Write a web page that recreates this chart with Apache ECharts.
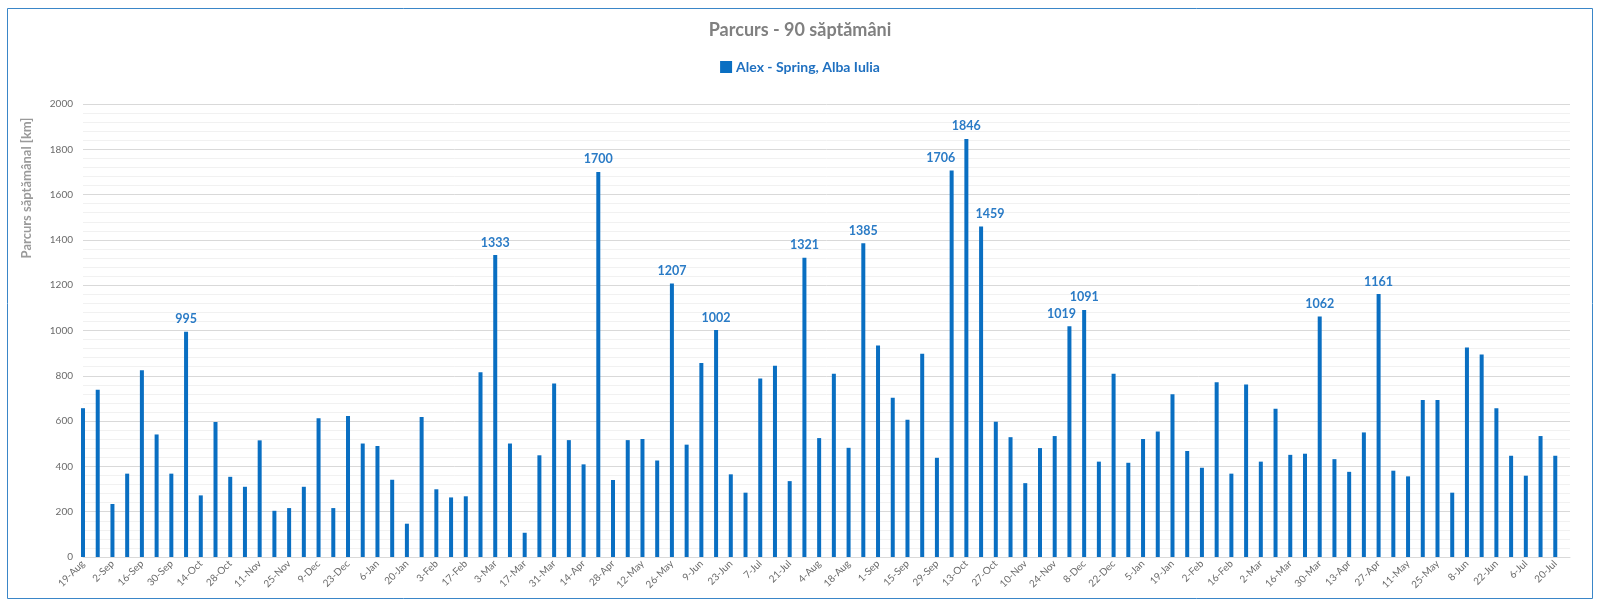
<!DOCTYPE html>
<html>
<head>
<meta charset="utf-8">
<title>Parcurs - 90 săptămâni</title>
<script src="https://cdn.jsdelivr.net/npm/echarts@6/dist/echarts.min.js"></script>
<style>
  html, body { margin: 0; padding: 0; background: #fff; }
  #chart { width: 1600px; height: 604px; }
</style>
</head>
<body>
<div id="chart"></div>
<script>
// weekly buckets (every other one gets a tick label on the axis)
const weeks = [
  '19-Aug', '26-Aug', '2-Sep', '9-Sep', '16-Sep', '23-Sep', '30-Sep', '7-Oct', '14-Oct', '21-Oct',
  '28-Oct', '4-Nov', '11-Nov', '18-Nov', '25-Nov', '2-Dec', '9-Dec', '16-Dec', '23-Dec', '30-Dec',
  '6-Jan', '13-Jan', '20-Jan', '27-Jan', '3-Feb', '10-Feb', '17-Feb', '24-Feb', '3-Mar', '10-Mar',
  '17-Mar', '24-Mar', '31-Mar', '7-Apr', '14-Apr', '21-Apr', '28-Apr', '5-May', '12-May', '19-May',
  '26-May', '2-Jun', '9-Jun', '16-Jun', '23-Jun', '30-Jun', '7-Jul', '14-Jul', '21-Jul', '28-Jul',
  '4-Aug', '11-Aug', '18-Aug', '25-Aug', '1-Sep', '8-Sep', '15-Sep', '22-Sep', '29-Sep', '6-Oct',
  '13-Oct', '20-Oct', '27-Oct', '3-Nov', '10-Nov', '17-Nov', '24-Nov', '1-Dec', '8-Dec', '15-Dec',
  '22-Dec', '29-Dec', '5-Jan', '12-Jan', '19-Jan', '26-Jan', '2-Feb', '9-Feb', '16-Feb', '23-Feb',
  '2-Mar', '9-Mar', '16-Mar', '23-Mar', '30-Mar', '6-Apr', '13-Apr', '20-Apr', '27-Apr', '4-May',
  '11-May', '18-May', '25-May', '1-Jun', '8-Jun', '15-Jun', '22-Jun', '29-Jun', '6-Jul', '13-Jul',
  '20-Jul'
]

// km per week, Alex - Spring, Alba Iulia
const km = [
  657, 738, 234, 368, 825, 541, 368, 995, 272, 596,
  354, 310, 515, 204, 216, 310, 613, 216, 622, 501,
  490, 341, 147, 618, 299, 263, 268, 816, 1333, 501,
  107, 449, 766, 516, 409, 1700, 340, 516, 521, 426,
  1207, 496, 857, 1002, 365, 284, 788, 844, 335, 1321,
  525, 809, 482, 1385, 934, 703, 606, 897, 438, 1706,
  1846, 1459, 597, 529, 326, 481, 534, 1019, 1091, 421,
  809, 416, 521, 554, 719, 468, 394, 771, 368, 762,
  421, 654, 451, 456, 1062, 432, 376, 550, 1161, 381,
  356, 693, 693, 284, 925, 894, 657, 447, 359, 534,
  447
]

const seriesName = 'Alex - Spring, Alba Iulia'
const chartTitle = 'Parcurs - 90 săptămâni'
const yTitle = 'Parcurs săptămânal [km]'
const labelMin = 950 // only the big weeks get a number on top

// a few labels were nudged sideways in the original so they don't collide (px)
const labelNudge = { 59: -11, 61: 9, 67: -8 }

const FONT = 'Lato, "Open Sans", sans-serif'
const BLUE = '#0a6fc2'

const chart = echarts.init(document.getElementById('chart'))
chart.setOption({
  backgroundColor: '#fff',
  animation: false,
  title: {
    text: chartTitle,
    left: 'center',
    top: 21,
    padding: 0,
    textStyle: { fontFamily: FONT, fontSize: 18, fontWeight: 'bold', color: '#808080' }
  },
  legend: {
    data: [seriesName],
    left: 'center',
    top: 60,
    padding: 0,
    itemWidth: 12,
    itemHeight: 12,
    itemGap: 4,
    icon: 'rect',
    textStyle: { fontFamily: FONT, fontSize: 14, fontWeight: 'bold', color: '#1f70c0', padding: [0, 0, 0, -1] }
  },
  grid: { left: 83, right: 30, top: 104, bottom: 47, containLabel: false },
  xAxis: {
    type: 'category',
    data: weeks,
    boundaryGap: false,
    max: weeks.length, // a spare empty slot after the last week, like the original
    axisLine: { lineStyle: { color: '#d9d9d9' } },
    axisTick: { show: false },
    axisLabel: {
      interval: 1,
      rotate: 45,
      margin: 5,
      fontFamily: FONT,
      fontSize: 10,
      color: '#6b6b6b',
      formatter: v => v || ''
    },
    splitLine: { show: false }
  },
  yAxis: {
    type: 'value',
    min: 0,
    max: 2000,
    interval: 200,
    axisLine: { show: false },
    axisTick: { show: false },
    axisLabel: { margin: 10, fontFamily: FONT, fontSize: 10, color: '#6b6b6b', formatter: v => String(v) },
    splitLine: { lineStyle: { color: '#d9d9d9' } },
    minorTick: { show: false, splitNumber: 5 },
    minorSplitLine: { show: true, lineStyle: { color: '#f1f1f1' } }
  },
  series: [{
    name: seriesName,
    type: 'bar',
    data: km.map((v, i) => labelNudge[i] ? { value: v, label: { offset: [labelNudge[i], 0] } } : v),
    barWidth: 4,
    itemStyle: { color: BLUE },
    label: {
      show: true,
      position: 'top',
      distance: 6,
      fontFamily: FONT,
      fontSize: 12.5,
      fontWeight: 'bold',
      color: '#2a7bc6',
      formatter: p => (p.value >= labelMin ? String(p.value) : '')
    }
  }],
  graphic: [
    {
      type: 'text',
      x: 27,
      y: 188,
      rotation: Math.PI / 2,
      style: {
        text: yTitle,
        font: 'bold 13px ' + FONT,
        fill: '#9a9a9a',
        align: 'center',
        verticalAlign: 'middle'
      }
    },
    {
      type: 'rect',
      shape: { x: 7.5, y: 8.5, width: 1585, height: 590 },
      style: { fill: 'none', stroke: '#3a86c8', lineWidth: 1 },
      silent: true
    }
  ]
})
</script>
</body>
</html>
